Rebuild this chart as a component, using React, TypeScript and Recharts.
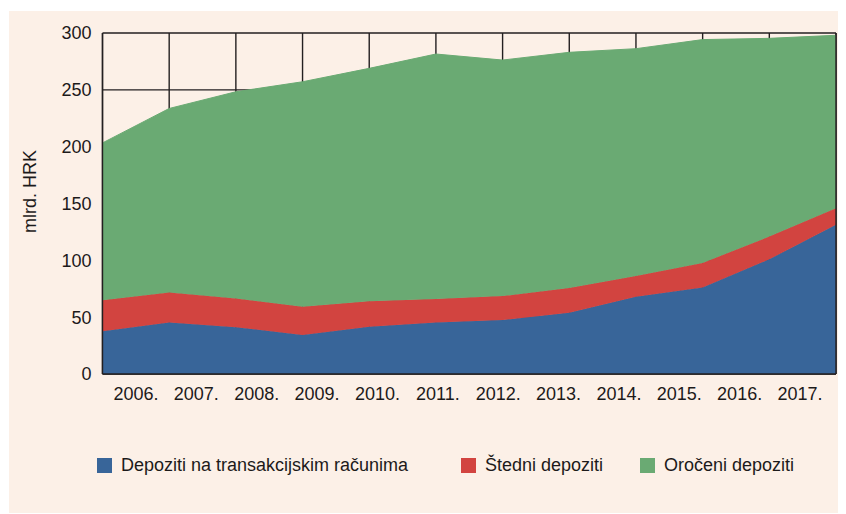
import { AreaChart, Area, XAxis, YAxis, CartesianGrid, Legend, ReferenceLine } from 'recharts';

const years = ['2006.', '2007.', '2008.', '2009.', '2010.', '2011.', '2012.', '2013.', '2014.', '2015.', '2016.', '2017.'];
const transakcijski = [37.7, 45.3, 41.2, 34.4, 41.5, 45.3, 47.4, 53.8, 67.9, 76.2, 100.9, 131.2];
const stedni = [27.1, 26.5, 25.3, 24.7, 22.4, 20.6, 21.2, 21.8, 18.3, 21.5, 20.0, 14.7];
const oroceni = [138.5, 161.8, 181.8, 198.0, 205.0, 215.6, 207.6, 207.4, 200.0, 196.5, 174.4, 152.1];
const yTicks = [0, 50, 100, 150, 200, 250, 300];

const seriesNames = ['Depoziti na transakcijskim računima', 'Štedni depoziti', 'Oročeni depoziti'];
const colors = { blue: '#386599', red: '#D24440', green: '#6AAA73', bg: '#FCF0E7', ink: '#1c1a1a', line: '#231f20' };

const data = years.map((year, i) => ({
  i,
  year,
  transakcijski: transakcijski[i],
  stedni: stedni[i],
  oroceni: oroceni[i],
}));

const font = '"Liberation Sans", Arial, sans-serif';

function ChartLegend() {
  const items = [
    { name: seriesNames[0], color: colors.blue, width: 364 },
    { name: seriesNames[1], color: colors.red, width: 179 },
    { name: seriesNames[2], color: colors.green, width: 160 },
  ];
  return (
    <div style={{ display: 'flex', alignItems: 'center', height: 30, paddingLeft: 88, fontFamily: font, fontSize: 18, color: colors.ink }}>
      {items.map((it) => (
        <div key={it.name} style={{ display: 'flex', alignItems: 'center', width: it.width, whiteSpace: 'nowrap' }}>
          <span style={{ display: 'inline-block', width: 15, height: 15, background: it.color, marginRight: 9 }} />
          <span>{it.name}</span>
        </div>
      ))}
    </div>
  );
}

export default function App() {
  return (
    <div style={{ marginLeft: 1, marginTop: 3, width: 837, height: 502, background: colors.bg }}>
      <AreaChart width={837} height={502} data={data} margin={{ top: 22, right: 10, left: 13.5, bottom: 79 }}>
        <CartesianGrid xAxisId="pts" stroke={colors.line} strokeWidth={1.4} />
        <XAxis xAxisId="pts" dataKey="i" type="number" domain={[0, 11]} ticks={data.map((d) => d.i)} hide />
        <XAxis
          xAxisId="lab"
          dataKey="year"
          type="category"
          interval={0}
          padding={{ left: 33.5, right: 36 }}
          tickLine={false}
          tickSize={0}
          tickMargin={13}
          height={30}
          axisLine={{ stroke: colors.line, strokeWidth: 1.4 }}
          tick={{ fill: colors.ink, fontSize: 18, fontFamily: font }}
        />
        <YAxis
          domain={[0, 300]}
          ticks={yTicks}
          width={80}
          tickLine={false}
          tickSize={0}
          tickMargin={11}
          axisLine={{ stroke: colors.line, strokeWidth: 1.4 }}
          tick={{ fill: colors.ink, fontSize: 18, fontFamily: font }}
          label={{
            content: ({ viewBox }: any) => {
              const x = viewBox.x + 7;
              const y = viewBox.y + viewBox.height / 2 - 12;
              return (
                <text
                  x={x}
                  y={y}
                  transform={`rotate(-90, ${x}, ${y})`}
                  textAnchor="middle"
                  dominantBaseline="central"
                  fill={colors.ink}
                  fontSize={18}
                  fontFamily={font}
                >
                  mlrd. HRK
                </text>
              );
            },
          }}
        />
        <Area xAxisId="pts" type="linear" dataKey="transakcijski" name={seriesNames[0]} stackId="a" fill={colors.blue} fillOpacity={1} stroke={colors.blue} isAnimationActive={false} />
        <Area xAxisId="pts" type="linear" dataKey="stedni" name={seriesNames[1]} stackId="a" fill={colors.red} fillOpacity={1} stroke={colors.red} isAnimationActive={false} />
        <Area xAxisId="pts" type="linear" dataKey="oroceni" name={seriesNames[2]} stackId="a" fill={colors.green} fillOpacity={1} stroke={colors.green} isAnimationActive={false} />
        <ReferenceLine xAxisId="pts" x={11} stroke={colors.line} strokeWidth={1.4} />
        <Legend verticalAlign="bottom" content={() => <ChartLegend />} wrapperStyle={{ top: 439, left: 0, width: 837 }} />
      </AreaChart>
    </div>
  );
}
